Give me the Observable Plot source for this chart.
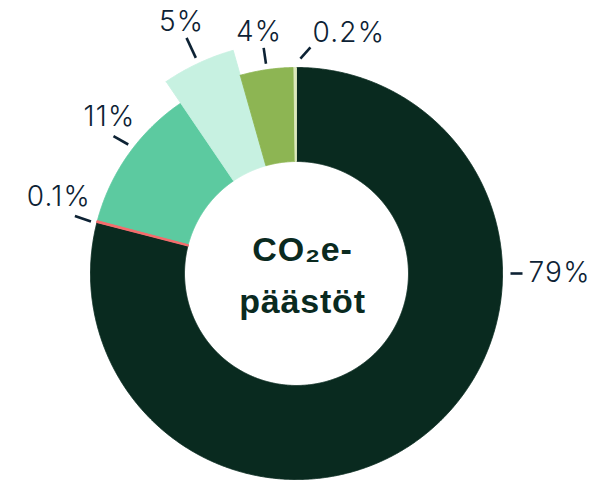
<!DOCTYPE html>
<html>
<head>
<meta charset="utf-8">
<script src="https://cdn.jsdelivr.net/npm/d3@7"></script>
<script src="https://cdn.jsdelivr.net/npm/@observablehq/plot@0.6"></script>
<style>
  html, body { margin: 0; padding: 0; background: #ffffff; }
  #chart svg { display: block; }
</style>
</head>
<body>
<div id="chart"></div>
<script>
// ---- data ----
const keys = ["a", "b", "c", "d", "e", "f"];
const values = [79.0, 0.1, 11.4, 5.1, 4.2, 0.2];
const labels = ["79%", "0.1%", "11%", "5%", "4%", "0.2%"];
const colors = ["#092a1f", "#f26d6d", "#5ccaa0", "#c7f1e1", "#8db553", "#dce8bd"];
const centerLines = ["CO₂e-", "päästöt"];

// ---- layout ----
const W = 601, H = 482, CX = 296, CY = 273;
const R = 206, R0 = 112, RX = 232;
const explodedKey = "d";
const deg = Math.PI / 180;
const polar = (a, r) => [r * Math.sin(a), r * Math.cos(a)];

const rows = keys.map((k, i) => ({key: k, value: values[i], label: labels[i]}));
const arcs = d3.pie().sort(null).value(d => d.value)(rows);

// slice polygons (largest drawn first so thin slices stay visible)
const polys = [];
[...arcs].sort((p, q) => q.value - p.value).forEach(a => {
  const rOut = a.data.key === explodedKey ? RX : R;
  const n = Math.max(2, Math.ceil((a.endAngle - a.startAngle) / (0.25 * deg)));
  const pts = [];
  for (let j = 0; j <= n; j++) {
    const t = a.startAngle + (a.endAngle - a.startAngle) * j / n;
    pts.push(polar(t, rOut));
  }
  for (let j = n; j >= 0; j--) {
    const t = a.startAngle + (a.endAngle - a.startAngle) * j / n;
    pts.push(polar(t, R0));
  }
  pts.push(pts[0]);
  const thin = a.data.value < 0.15;
  pts.forEach(([x, y]) => polys.push({key: a.data.key, x, y, thin}));
});

// leader ticks + label placement (layout rules per slice)
const tickRule = {
  a: {anchorAngle: 90, gap: 8, len: 12, dirAngle: 90, anchor: "start", off: [6, 0]},
  b: {dA: -0.4, gap: 6, len: 17, dirD: 5, anchor: "middle", off: [-16, -19]},
  c: {dA: 2.2, gap: 6, len: 17, dirD: -8, anchor: "middle", off: [-4, -19]},
  d: {dA: 0, gap: 6, len: 22, dirD: 0, anchor: "middle", off: [-5, -16]},
  e: {dA: 0, gap: 6, len: 16, dirD: 0, anchor: "middle", off: [-4.5, -16]},
  f: {dA: 1.4, gap: 9, len: 15, dirAngle: 42, anchor: "start", off: [2, -14]}
};
const ticks = arcs.map(a => {
  const k = a.data.key, rule = tickRule[k];
  const mid = (a.startAngle + a.endAngle) / 2 / deg;
  const ang = rule.anchorAngle != null ? rule.anchorAngle : mid + rule.dA;
  const rOut = k === explodedKey ? RX : R;
  const [x1, y1] = polar(ang * deg, rOut + rule.gap);
  const dir = (rule.dirAngle != null ? rule.dirAngle : ang + rule.dirD) * deg;
  const x2 = x1 + rule.len * Math.sin(dir), y2 = y1 + rule.len * Math.cos(dir);
  return {key: k, label: a.data.label, x1, y1, x2, y2,
          lx: x2 + rule.off[0], ly: y2 - rule.off[1], anchor: rule.anchor};
});

const centerRows = centerLines.map((t, i) => ({text: t, x: 6, y: i === 0 ? 23 : -28.5}));

const labelFont = {fontFamily: "Inter, 'Open Sans', sans-serif", fontWeight: 300, fontSize: 28, fill: "#0d2234"};

const chart = Plot.plot({
  width: W, height: H, margin: 0,
  x: {domain: [-CX, W - CX], axis: null},
  y: {domain: [CY - H, CY], axis: null},
  color: {domain: keys, range: colors},
  marks: [
    Plot.line(polys, {x: "x", y: "y", z: "key", fill: "key", stroke: "key", strokeWidth: 0.9, curve: "linear"}),
    Plot.line(polys.filter(d => d.thin), {x: "x", y: "y", z: "key", fill: "key", stroke: "key", strokeWidth: 1.6, curve: "linear"}),
    Plot.link(ticks, {x1: "x1", y1: "y1", x2: "x2", y2: "y2", stroke: "#0d2234", strokeWidth: 2.6}),
    Plot.text(ticks.filter(d => d.anchor === "middle"), {x: "lx", y: "ly", text: "label", textAnchor: "middle", ...labelFont}),
    Plot.text(ticks.filter(d => d.anchor === "start"), {x: "lx", y: "ly", text: "label", textAnchor: "start", ...labelFont}),
    Plot.text(centerRows, {x: "x", y: "y", text: "text", textAnchor: "middle",
      fontFamily: "'Liberation Sans', Arial, sans-serif", fontWeight: 700, fontSize: 34, fill: "#0a2a1f"})
  ]
});
const textGroups = chart.querySelectorAll('g[aria-label="text"]');
textGroups.forEach((g, i) => g.setAttribute("letter-spacing", i < 2 ? "1.2px" : "0.8px"));
document.getElementById("chart").appendChild(chart);
</script>
</body>
</html>
